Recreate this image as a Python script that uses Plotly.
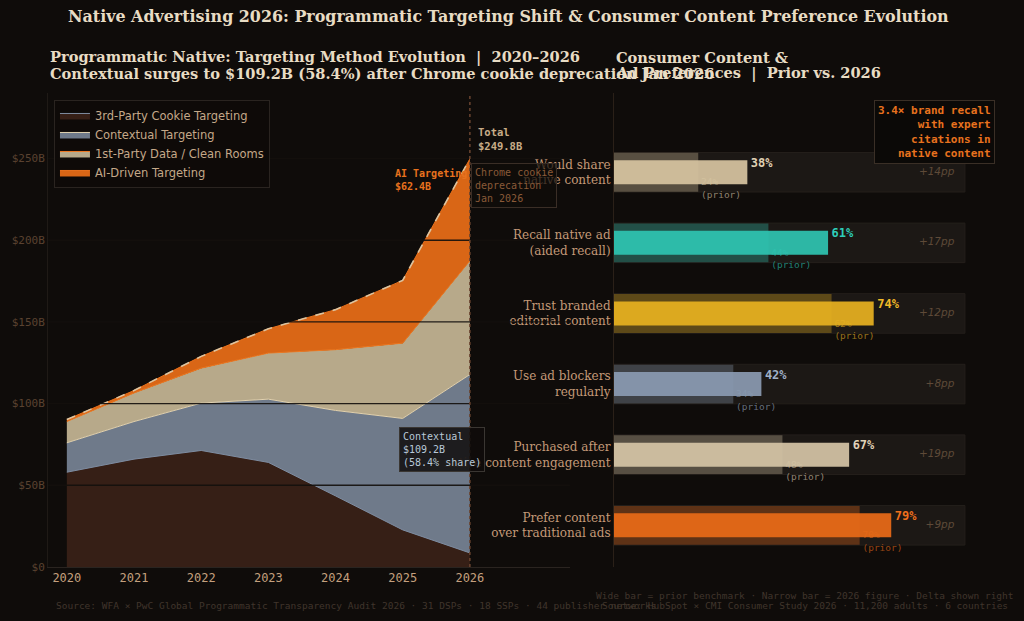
import plotly.graph_objects as go

# ---------------- data ----------------
YEARS = [2020, 2021, 2022, 2023, 2024, 2025, 2026]
COOKIE = [58.0, 66.0, 71.3, 64.0, 43.5, 22.7, 8.6]
CONTEXTUAL = [18.0, 23.0, 29.0, 38.7, 52.3, 68.2, 109.2]
FIRST_PARTY = [13.0, 17.5, 21.4, 28.2, 37.2, 46.1, 69.6]
AI_DRIVEN = [1.2, 1.5, 7.2, 14.9, 24.5, 38.4, 62.4]
Y_TICKS = [0, 50, 100, 150, 200, 250]
Y_TICK_TEXT = ["$0", "$50B", "$100B", "$150B", "$200B", "$250B"]

CATEGORIES = [
    "Would share<br>native content",
    "Recall native ad<br>(aided recall)",
    "Trust branded<br>editorial content",
    "Use ad blockers<br>regularly",
    "Purchased after<br>native content engagement",
    "Prefer content<br>over traditional ads",
]
PRIOR = [24, 44, 62, 34, 48, 70]
NOW = [38, 61, 74, 42, 67, 79]
DELTA = [14, 17, 12, 8, 19, 9]

# ---------------- style ----------------
BG = "#0f0c0a"
SERIF = "DejaVu Serif"
MONO = "DejaVu Sans Mono"
SANS = "DejaVu Sans"
BAR_RGB = [(214, 196, 160), (46, 196, 176), (230, 176, 32),
           (138, 154, 176), (212, 196, 166), (232, 106, 24)]
LABEL_RGB = [(224, 210, 180), (46, 206, 186), (240, 186, 40),
             (160, 176, 200), (224, 210, 184), (240, 112, 28)]


def rgba(c, a):
    return f"rgba({c[0]},{c[1]},{c[2]},{a})"


fig = go.Figure()

# ---------------- left: stacked area ----------------
layers = [
    ("3rd-Party Cookie Targeting", COOKIE, "#361f16", "#7f8ca0"),
    ("Contextual Targeting", CONTEXTUAL, "#6f7a8a", "#e2d2b0"),
    ("1st-Party Data / Clean Rooms", FIRST_PARTY, "#b7a98a", "#f07a22"),
    ("AI-Driven Targeting", AI_DRIVEN, "#d96616", "#e8721e"),
]
for name, vals, fc, lc in layers:
    fig.add_trace(go.Scatter(
        x=YEARS, y=vals, name=name, stackgroup="one", mode="lines",
        line=dict(color=lc, width=1), fillcolor=fc,
        xaxis="x", yaxis="y", hoverinfo="skip",
    ))

totals = [a + b + c + d for a, b, c, d in zip(COOKIE, CONTEXTUAL, FIRST_PARTY, AI_DRIVEN)]
fig.add_trace(go.Scatter(
    x=YEARS, y=totals, mode="lines", showlegend=False,
    line=dict(color="#dcc4a0", width=1.6, dash="dash"),
    xaxis="x", yaxis="y", hoverinfo="skip",
))

# ---------------- right: prior vs 2026 bars ----------------
idx = list(range(len(CATEGORIES)))
fig.add_trace(go.Bar(
    y=idx, x=[100] * len(idx), orientation="h", width=0.56,
    marker=dict(color="#1c1815", line=dict(color="#241f1b", width=1)),
    showlegend=False, xaxis="x2", yaxis="y2", hoverinfo="skip",
))
fig.add_trace(go.Bar(
    y=idx, x=PRIOR, orientation="h", width=0.55,
    marker=dict(color=[rgba(c, 0.32) for c in BAR_RGB], line=dict(width=0)),
    showlegend=False, xaxis="x2", yaxis="y2", hoverinfo="skip",
))
fig.add_trace(go.Scatter(
    y=[i + 0.24 for i in idx], x=[p + 0.8 for p in PRIOR], mode="text",
    text=[f"{p}%<br>(prior)" for p in PRIOR], textposition="middle right",
    textfont=dict(family=MONO, size=9.5, color=[rgba(c, 0.6) for c in LABEL_RGB]),
    showlegend=False, xaxis="x2", yaxis="y2", hoverinfo="skip",
))
fig.add_trace(go.Bar(
    y=idx, x=NOW, orientation="h", width=0.34,
    marker=dict(color=[rgba(c, 0.93) for c in BAR_RGB], line=dict(width=0)),
    showlegend=False, xaxis="x3", yaxis="y3", hoverinfo="skip",
))
fig.add_trace(go.Scatter(
    y=[i - 0.12 for i in idx], x=[v + 1.0 for v in NOW], mode="text",
    text=[f"<b>{v}%</b>" for v in NOW], textposition="middle right",
    textfont=dict(family=MONO, size=12, color=[rgba(c, 1) for c in LABEL_RGB]),
    showlegend=False, xaxis="x3", yaxis="y3", hoverinfo="skip",
))
fig.add_trace(go.Scatter(
    y=idx, x=[97] * len(idx), mode="text",
    text=[f"+{d}pp" for d in DELTA], textposition="middle left",
    textfont=dict(family=SANS, size=10.5, color="#5e4a38", style="italic"),
    showlegend=False, xaxis="x3", yaxis="y3", hoverinfo="skip",
))

# ---------------- layout ----------------
YDOM = [0.087, 0.850]
fig.update_layout(
    width=1024, height=621,
    margin=dict(l=0, r=0, t=0, b=0, autoexpand=False),
    paper_bgcolor=BG, plot_bgcolor=BG,
    barmode="overlay",
    showlegend=True,
    legend=dict(
        x=0.0527, y=0.839, xanchor="left", yanchor="top",
        bgcolor="rgba(14,11,9,0.92)", bordercolor="#2a2420", borderwidth=1,
        font=dict(family=SANS, size=11.5, color="#c4a888"),
        traceorder="normal", tracegroupgap=0,
    ),
    xaxis=dict(
        domain=[0.0469, 0.5566], range=[2019.72, 2027.49],
        tickvals=YEARS, ticktext=[str(y) for y in YEARS],
        tickfont=dict(family=MONO, size=12, color="#c4a07e"),
        showgrid=False, zeroline=False, showline=True, linecolor="#2a2420",
        ticks="", anchor="y", automargin=False,
    ),
    yaxis=dict(
        domain=YDOM, range=[0, 290],
        tickvals=Y_TICKS, ticktext=Y_TICK_TEXT,
        tickfont=dict(family=MONO, size=11, color="#5a4230"),
        showgrid=False, zeroline=False, showline=True, linecolor="#1f1a16",
        ticks="", anchor="x", automargin=False,
    ),
    xaxis2=dict(
        domain=[0.5996, 0.9766], range=[0, 110], visible=False, anchor="y2",
        automargin=False,
    ),
    yaxis2=dict(
        domain=YDOM, range=[5.59, -1.12],
        tickvals=idx, ticktext=CATEGORIES,
        tickfont=dict(family=SERIF, size=12, color="#c49a78"),
        showgrid=False, zeroline=False, showline=True, linecolor="#2a2018",
        ticks="", anchor="x2", automargin=False,
    ),
    xaxis3=dict(
        domain=[0.5996, 0.9766], range=[0, 110], visible=False,
        overlaying="x2", anchor="y3", automargin=False,
    ),
    yaxis3=dict(
        domain=YDOM, range=[5.59, -1.12], visible=False,
        overlaying="y2", anchor="x3", automargin=False,
    ),
)

# gridlines drawn above fills (dark, nearly background colour)
for v in Y_TICKS[1:]:
    fig.add_shape(type="line", xref="x domain", yref="y", x0=0, x1=1, y0=v, y1=v,
                  line=dict(color="rgba(20,16,13,0.92)", width=1.4), layer="above")
# Chrome deprecation marker
fig.add_shape(type="line", xref="x", yref="y domain", x0=YEARS[-1], x1=YEARS[-1], y0=0, y1=1,
              line=dict(color="#6b4530", width=1.5, dash="dot"), layer="above")

TITLE_C = "#e8dcc4"
ann = []
ann.append(dict(
    xref="paper", yref="paper", x=0.497, y=0.9742, xanchor="center", yanchor="middle",
    text="<b>Native Advertising 2026: Programmatic Targeting Shift & Consumer Content Preference Evolution</b>",
    font=dict(family=SERIF, size=15.9, color=TITLE_C), showarrow=False,
))
for txt, x, y in [
    ("Programmatic Native: Targeting Method Evolution  |  2020–2026", 0.0469, 0.9082),
    ("Contextual surges to $109.2B (58.4%) after Chrome cookie deprecation Jan 2026", 0.0469, 0.8824),
    ("Consumer Content &", 0.5996, 0.9082),
    ("Ad Preferences  |  Prior vs. 2026", 0.5996, 0.8824),
]:
    ann.append(dict(
        xref="paper", yref="paper", x=x, y=y, xanchor="left", yanchor="middle", align="left",
        text=f"<b>{txt}</b>", font=dict(family=SERIF, size=14.6, color=TITLE_C), showarrow=False,
    ))
ann.append(dict(
    xref="x", yref="y", x=YEARS[-1], y=262, xanchor="left", yanchor="middle", xshift=6, align="left",
    text=f"<b>Total<br>${totals[-1]:.1f}B</b>",
    font=dict(family=MONO, size=10.5, color="#c8ac88"), showarrow=False,
))
ann.append(dict(
    xref="x", yref="y", x=YEARS[-1], y=237, xanchor="right", yanchor="middle", xshift=-1, align="left",
    text=f"<b>AI Targeting<br>${AI_DRIVEN[-1]:.1f}B</b>",
    font=dict(family=MONO, size=10, color="#e8721e"), showarrow=False,
))
ann.append(dict(
    xref="x", yref="y", x=YEARS[-1], y=247, xanchor="left", yanchor="top", xshift=1, align="left",
    text="Chrome cookie<br>deprecation<br>Jan 2026",
    font=dict(family=MONO, size=10, color="#8a5a38"), showarrow=False,
    bgcolor="rgba(15,12,10,0.72)", bordercolor="#3a2e26", borderwidth=1, borderpad=3,
))
ann.append(dict(
    xref="x", yref="y", x=YEARS[-1], y=72, xanchor="right", yanchor="middle", xshift=15, align="left",
    text=f"Contextual<br>${CONTEXTUAL[-1]:.1f}B<br>(58.4% share)",
    font=dict(family=MONO, size=10, color="#b8c8d8"), showarrow=False,
    bgcolor="rgba(15,12,10,0.85)", bordercolor="#3a3632", borderwidth=1, borderpad=3,
))
ann.append(dict(
    xref="paper", yref="paper", x=0.9717, y=0.839, xanchor="right", yanchor="top", align="right",
    text="<b>3.4× brand recall<br>with expert<br>citations in<br>native content</b>",
    font=dict(family=MONO, size=11, color="#e8721e"), showarrow=False,
    bgcolor="#0b0907", bordercolor="#3a2f26", borderwidth=1, borderpad=3,
))
FOOT_C = "#40352c"
ann.append(dict(
    xref="paper", yref="paper", x=0.0527, y=0.0242, xanchor="left", yanchor="middle",
    text="Source: WFA × PwC Global Programmatic Transparency Audit 2026 · 31 DSPs · 18 SSPs · 44 publisher networks",
    font=dict(family=MONO, size=9.5, color=FOOT_C), showarrow=False,
))
ann.append(dict(
    xref="paper", yref="paper", x=0.992, y=0.0403, xanchor="right", yanchor="middle",
    text="Wide bar = prior benchmark · Narrow bar = 2026 figure · Delta shown right",
    font=dict(family=MONO, size=9.5, color=FOOT_C), showarrow=False,
))
ann.append(dict(
    xref="paper", yref="paper", x=0.986, y=0.0242, xanchor="right", yanchor="middle",
    text="Source: HubSpot × CMI Consumer Study 2026 · 11,200 adults · 6 countries",
    font=dict(family=MONO, size=9.5, color=FOOT_C), showarrow=False,
))
fig.update_layout(annotations=ann)

fig.write_html("out.html")
